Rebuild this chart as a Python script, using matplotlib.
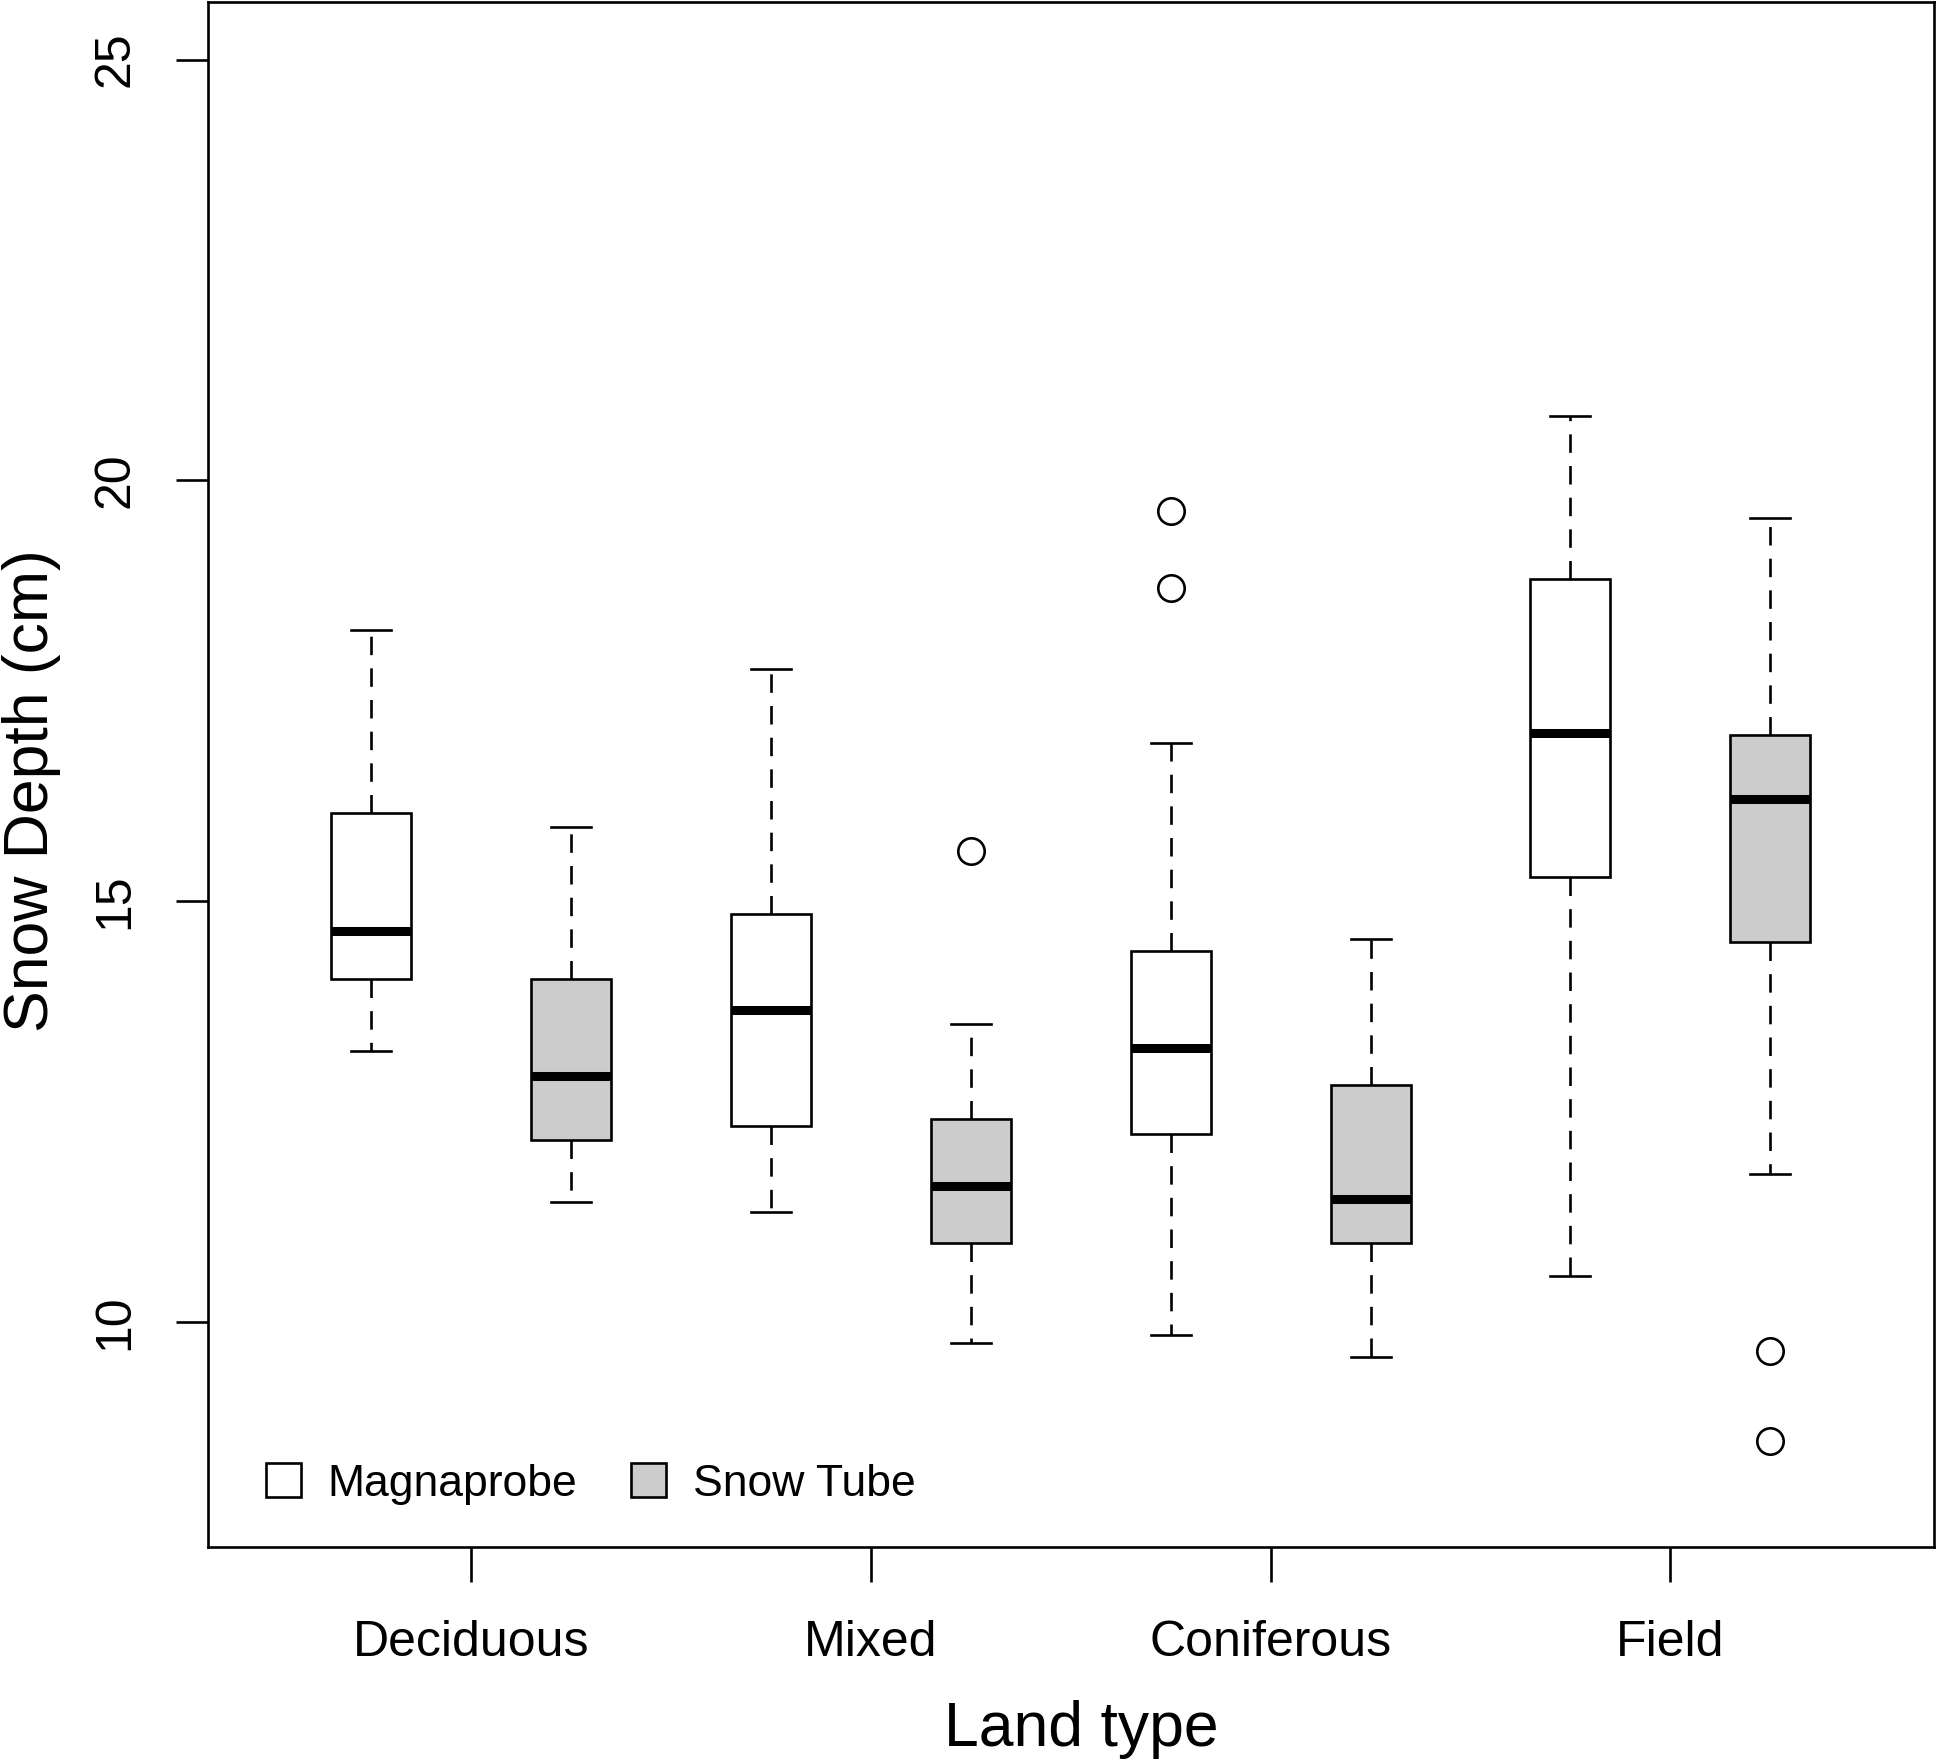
import matplotlib
matplotlib.use("Agg")
import matplotlib.pyplot as plt
from matplotlib.patches import Patch

plt.rcParams["font.family"] = ["Liberation Sans", "DejaVu Sans"]

# land types on the x axis, two instruments per land type
land_types = ["Deciduous", "Mixed", "Coniferous", "Field"]
series = ["Magnaprobe", "Snow Tube"]

# box-plot summaries (cm)
mag_low = [13.22, 11.31, 9.85, 10.54]
mag_q1 = [14.07, 12.33, 12.23, 15.29]
mag_med = [14.64, 13.71, 13.26, 17.00]
mag_q3 = [16.05, 14.85, 14.41, 18.83]
mag_high = [18.22, 17.76, 16.88, 20.76]
mag_out = [[], [], [19.64, 18.72], []]

tube_low = [11.43, 9.75, 9.58, 11.76]
tube_q1 = [12.16, 10.94, 10.94, 14.52]
tube_med = [12.92, 11.62, 11.46, 16.21]
tube_q3 = [14.07, 12.41, 12.82, 16.98]
tube_high = [15.88, 13.54, 14.55, 19.55]
tube_out = [[], [15.60], [], [9.65, 8.59]]

fills = ["white", "#cccccc"]
LW = 1.9


def stats_for(low, q1, med, q3, high, out):
    return [dict(whislo=a, q1=b, med=c, q3=d, whishi=e, fliers=f)
            for a, b, c, d, e, f in zip(low, q1, med, q3, high, out)]


groups = [stats_for(mag_low, mag_q1, mag_med, mag_q3, mag_high, mag_out),
          stats_for(tube_low, tube_q1, tube_med, tube_q3, tube_high, tube_out)]

fig = plt.figure(figsize=(19.38, 17.6), dpi=100)
ax = fig.add_axes([0.1071, 0.1208, 0.8909, 0.8778])

for k, st in enumerate(groups):
    pos = [2 * i + 1 + k for i in range(len(land_types))]
    ax.bxp(st, positions=pos, widths=0.4, capwidths=0.2, patch_artist=True,
           boxprops=dict(facecolor=fills[k], edgecolor="black", linewidth=LW),
           medianprops=dict(color="black", linewidth=6.5, solid_capstyle="butt"),
           whiskerprops=dict(color="black", linewidth=LW, linestyle=(0, (7, 5))),
           capprops=dict(color="black", linewidth=LW),
           flierprops=dict(marker="o", markersize=19, markerfacecolor="none",
                           markeredgecolor="black", markeredgewidth=LW,
                           linestyle="none"),
           manage_ticks=False)

ax.set_xlim(0.18, 8.82)
ax.set_ylim(7.32, 25.68)
ax.set_xticks([1.5, 3.5, 5.5, 7.5])
ax.set_xticklabels(land_types)
ax.set_yticks([10, 15, 20, 25])
ax.set_yticklabels(["10", "15", "20", "25"], rotation=90, va="center")
ax.tick_params(axis="x", length=25, width=LW, pad=27, labelsize=36)
ax.tick_params(axis="y", length=23, width=LW, pad=27, labelsize=36)
for sp in ax.spines.values():
    sp.set_linewidth(LW)

handles = [Patch(facecolor=f, edgecolor="black", linewidth=LW) for f in fills]
ax.legend(handles, series, loc="center left", bbox_to_anchor=(0.0336, 0.041),
          ncol=2, frameon=False, fontsize=32, handlelength=0.8, handleheight=0.8,
          handletextpad=0.6, columnspacing=1.2, borderpad=0, borderaxespad=0)

fig.text(0.558, 0.008, "Land type", ha="center", va="baseline", fontsize=45)
fig.text(0.016, 0.5505, "Snow Depth (cm)", ha="center", va="center",
         rotation=90, fontsize=45)

fig.savefig("out.png", dpi=100)
